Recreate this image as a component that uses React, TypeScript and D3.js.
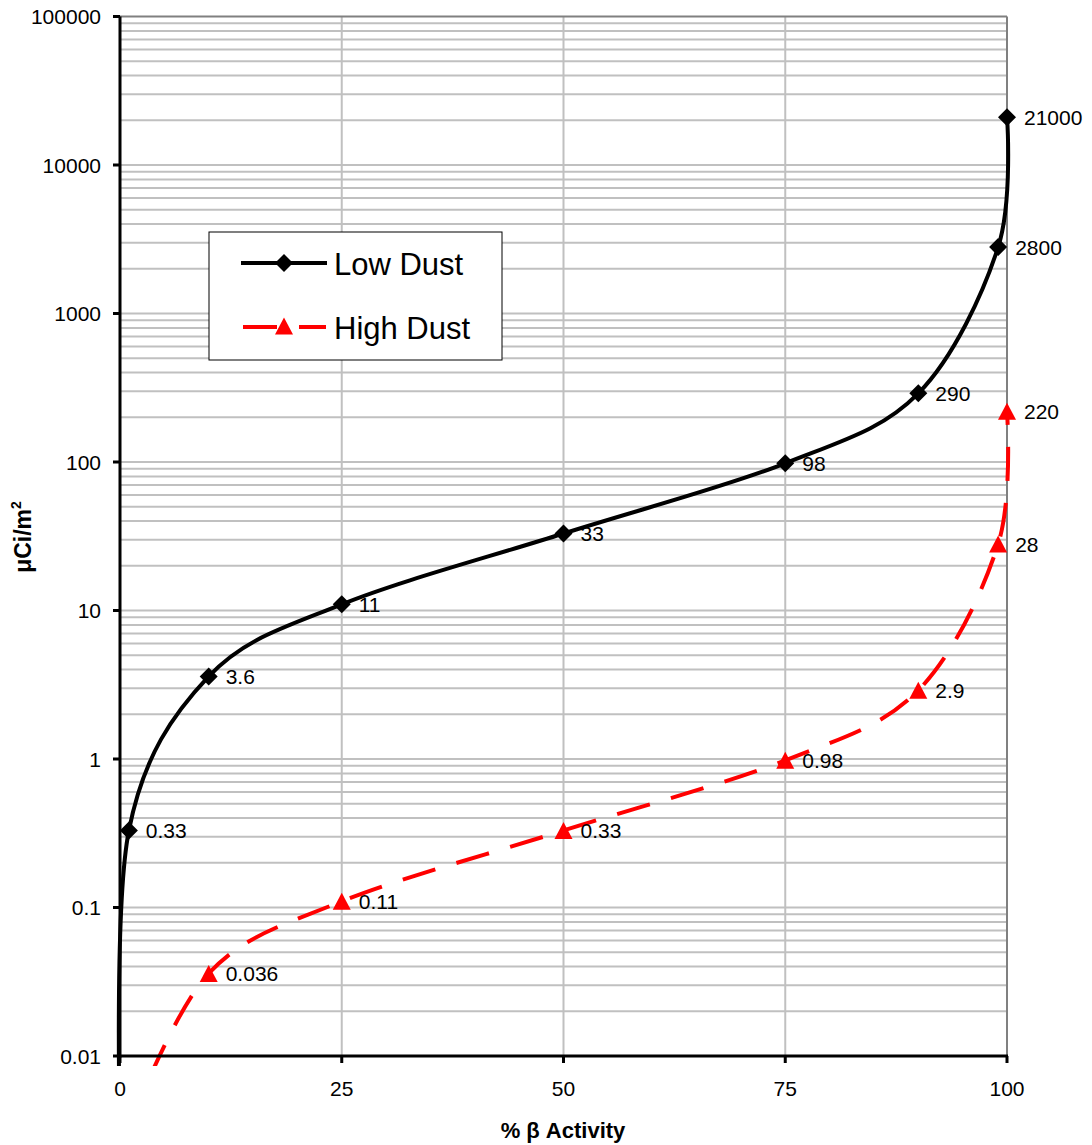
import React from "react";
import * as d3 from "d3";

const xTickValues = [0, 25, 50, 75, 100];
const yTickValues = [0.01, 0.1, 1, 10, 100, 1000, 10000, 100000];
const yTickLabels = ["0.01", "0.1", "1", "10", "100", "1000", "10000", "100000"];

const lowPct = [0, 1, 10, 25, 50, 75, 90, 99, 100];
const lowDust = [0.0033, 0.33, 3.6, 11, 33, 98, 290, 2800, 21000];
const lowLabels = ["", "0.33", "3.6", "11", "33", "98", "290", "2800", "21000"];

const highPct = [1, 10, 25, 50, 75, 90, 99, 100];
const highDust = [0.0033, 0.036, 0.11, 0.33, 0.98, 2.9, 28, 220];
const highLabels = ["", "0.036", "0.11", "0.33", "0.98", "2.9", "28", "220"];

const seriesNames = ["Low Dust", "High Dust"];

const W = 1092;
const H = 1145;
const M = { left: 120, right: 1007, top: 16.5, bottom: 1056 };
const FONT = "'Liberation Sans', Arial, sans-serif";

export default function App() {
  const x = d3.scaleLinear().domain([0, 100]).range([M.left, M.right]);
  const y = d3.scaleLog().domain([0.01, 100000]).range([M.bottom, M.top]);

  const minorVals: number[] = [];
  for (let e = -2; e < 5; e++) {
    for (let k = 1; k <= 9; k++) {
      const v = k * Math.pow(10, e);
      if (v > 0.01) minorVals.push(v);
    }
  }

  const line = d3
    .line<[number, number]>()
    .x((d) => x(d[0]))
    .y((d) => y(d[1]))
    .curve(d3.curveCatmullRom.alpha(0));

  const lowData: [number, number][] = lowPct.map((p, i) => [p, lowDust[i]]);
  const highData: [number, number][] = highPct.map((p, i) => [p, highDust[i]]);

  const inRange = (d: [number, number]) => d[1] >= 0.01 && d[1] <= 100000;

  const diamond = (cx: number, cy: number, r: number) =>
    `M${cx},${cy - r}L${cx + r},${cy}L${cx},${cy + r}L${cx - r},${cy}Z`;
  const triangle = (cx: number, cy: number, w: number, h: number) =>
    `M${cx},${cy - h / 2}L${cx + w / 2},${cy + h / 2}L${cx - w / 2},${cy + h / 2}Z`;

  return (
    <div style={{ position: "absolute", left: 0, top: 0 }}>
      <svg width={W} height={H} style={{ display: "block", background: "#fff" }} fontFamily={FONT}>
        <defs>
          <clipPath id="plotclip">
            <rect x={M.left - 4} y={M.top - 4} width={M.right - M.left + 8} height={M.bottom - M.top + 14} />
          </clipPath>
        </defs>
        {/* horizontal grid */}
        {minorVals.map((v, i) => (
          <line key={"h" + i} x1={M.left} x2={M.right} y1={y(v)} y2={y(v)} stroke="#c0c0c0" strokeWidth={2} />
        ))}
        {/* vertical grid */}
        {xTickValues
          .filter((v) => v > 0 && v < 100)
          .map((v) => (
            <line key={"v" + v} x1={x(v)} x2={x(v)} y1={M.top} y2={M.bottom} stroke="#c0c0c0" strokeWidth={2} />
          ))}
        {/* plot border top/right */}
        <line x1={M.left} x2={M.right} y1={M.top} y2={M.top} stroke="#808080" strokeWidth={2} />
        <line x1={M.right} x2={M.right} y1={M.top} y2={M.bottom} stroke="#808080" strokeWidth={2} />

        {/* series lines */}
        <g clipPath="url(#plotclip)">
          <path d={line(lowData) || ""} fill="none" stroke="#000" strokeWidth={4} />
          <path d={line(highData) || ""} fill="none" stroke="#ff0000" strokeWidth={4} strokeDasharray="34 22" />
        </g>

        {/* axes */}
        <line x1={M.left} x2={M.left} y1={M.top} y2={M.bottom + 1.5} stroke="#000" strokeWidth={3} />
        <line x1={M.left - 1.5} x2={M.right + 1} y1={M.bottom} y2={M.bottom} stroke="#000" strokeWidth={3} />
        {yTickValues.map((v, i) => (
          <g key={"yt" + i}>
            <line x1={M.left - 7} x2={M.left} y1={y(v)} y2={y(v)} stroke="#000" strokeWidth={3} />
            <text x={101} y={y(v) + 7.5} textAnchor="end" fontSize={21} fill="#000">
              {yTickLabels[i]}
            </text>
          </g>
        ))}
        {xTickValues.map((v) => (
          <g key={"xt" + v}>
            <line x1={x(v)} x2={x(v)} y1={M.bottom} y2={M.bottom + 7} stroke="#000" strokeWidth={3} />
            <text x={x(v)} y={1096} textAnchor="middle" fontSize={21} fill="#000">
              {v}
            </text>
          </g>
        ))}

        {/* markers */}
        {lowData.map((d, i) =>
          inRange(d) ? <path key={"lm" + i} d={diamond(x(d[0]), y(d[1]), 9)} fill="#000" /> : null
        )}
        {highData.map((d, i) =>
          inRange(d) ? <path key={"hm" + i} d={triangle(x(d[0]), y(d[1]), 18, 17)} fill="#ff0000" /> : null
        )}

        {/* data labels */}
        {lowData.map((d, i) =>
          inRange(d) && lowLabels[i] ? (
            <text key={"ll" + i} x={x(d[0]) + 17} y={y(d[1]) + 7.5} fontSize={21} fill="#000">
              {lowLabels[i]}
            </text>
          ) : null
        )}
        {highData.map((d, i) =>
          inRange(d) && highLabels[i] ? (
            <text key={"hl" + i} x={x(d[0]) + 17} y={y(d[1]) + 7.5} fontSize={21} fill="#000">
              {highLabels[i]}
            </text>
          ) : null
        )}

        {/* legend */}
        <rect x={209} y={232} width={293} height={128} fill="#fff" stroke="#000" strokeWidth={1} />
        <line x1={241} x2={327} y1={263} y2={263} stroke="#000" strokeWidth={4} />
        <path d={diamond(284, 263, 9)} fill="#000" />
        <text x={334} y={275} fontSize={31} fill="#000">
          {seriesNames[0]}
        </text>
        <line x1={243} x2={277} y1={327} y2={327} stroke="#ff0000" strokeWidth={4} />
        <line x1={299} x2={326} y1={327} y2={327} stroke="#ff0000" strokeWidth={4} />
        <path d={triangle(284, 326, 18, 17)} fill="#ff0000" />
        <text x={334} y={339} fontSize={31} fill="#000">
          {seriesNames[1]}
        </text>

        {/* axis titles */}
        <text x={563} y={1138} textAnchor="middle" fontSize={22} fontWeight="bold" fill="#000">
          % β Activity
        </text>
        <text transform={`translate(31,537) rotate(-90)`} textAnchor="middle" fontSize={23} fontWeight="bold" fill="#000">
          μCi/m<tspan fontSize={14} dy={-10}>2</tspan>
        </text>
      </svg>
    </div>
  );
}
